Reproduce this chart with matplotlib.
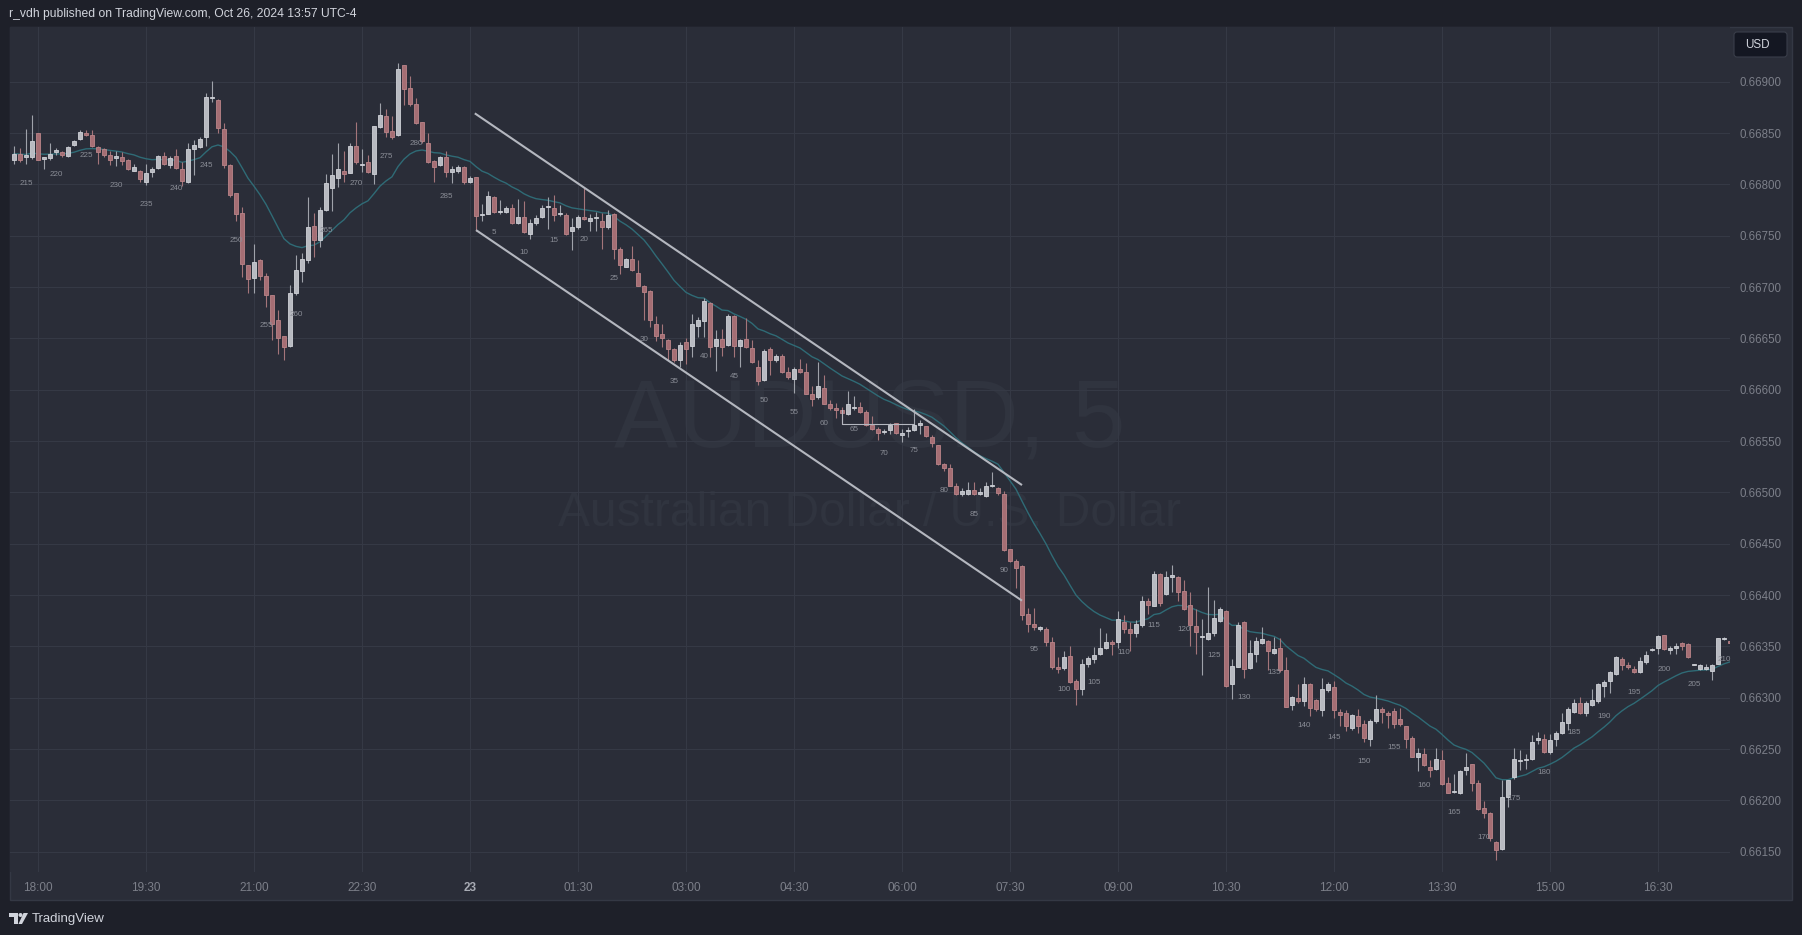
import numpy as np
import pandas as pd
import matplotlib
matplotlib.use('Agg')
import matplotlib.pyplot as plt
from matplotlib.patches import Rectangle, FancyBboxPatch, Polygon, Circle

W, H = 1802, 935

# AUDUSD 5 min candles, prices in units of 0.00001
opens = [66824, 66830, 66827, 66827, 66850, 66825, 66826, 66832, 66832, 66828,
         66838, 66844, 66850, 66848, 66836, 66834, 66829, 66826, 66827, 66824,
         66813, 66813, 66802, 66812, 66816, 66828, 66819, 66828, 66815, 66802,
         66834, 66836, 66846, 66884, 66882, 66854, 66819, 66792, 66772, 66721,
         66709, 66726, 66711, 66692, 66668, 66652, 66643, 66694, 66716, 66726,
         66759, 66746, 66775, 66796, 66806, 66813, 66811, 66837, 66819, 66822,
         66810, 66856, 66867, 66852, 66848, 66916, 66894, 66878, 66861, 66840,
         66823, 66819, 66827, 66812, 66813, 66817, 66802, 66807, 66770, 66771,
         66788, 66773, 66773, 66777, 66762, 66768, 66752, 66762, 66768, 66778,
         66777, 66771, 66770, 66755, 66758, 66768, 66764, 66767, 66764, 66758,
         66771, 66737, 66720, 66727, 66714, 66701, 66696, 66664, 66654, 66648,
         66640, 66629, 66646, 66643, 66662, 66667, 66684, 66643, 66649, 66644,
         66672, 66643, 66649, 66641, 66622, 66609, 66640, 66629, 66633, 66617,
         66610, 66620, 66617, 66596, 66593, 66602, 66586, 66582, 66580, 66576,
         66582, 66583, 66578, 66566, 66562, 66559, 66561, 66568, 66556, 66560,
         66561, 66566, 66565, 66554, 66546, 66528, 66524, 66506, 66498, 66498,
         66502, 66498, 66496, 66506, 66504, 66498, 66445, 66433, 66428, 66382,
         66372, 66367, 66367, 66354, 66330, 66329, 66341, 66316, 66308, 66333,
         66338, 66343, 66348, 66354, 66354, 66374, 66367, 66363, 66371, 66394,
         66389, 66420, 66401, 66418, 66418, 66404, 66390, 66370, 66359, 66357,
         66363, 66375, 66384, 66313, 66330, 66374, 66329, 66343, 66353, 66355,
         66344, 66348, 66327, 66293, 66300, 66297, 66313, 66298, 66288, 66307,
         66310, 66286, 66285, 66270, 66282, 66274, 66260, 66277, 66289, 66285,
         66287, 66279, 66272, 66261, 66242, 66245, 66232, 66231, 66239, 66217,
         66208, 66207, 66230, 66235, 66217, 66193, 66188, 66159, 66153, 66203,
         66223, 66238, 66239, 66240, 66259, 66260, 66247, 66260, 66266, 66275,
         66286, 66295, 66285, 66293, 66297, 66311, 66316, 66323, 66338, 66332,
         66328, 66325, 66335, 66346, 66348, 66361, 66346, 66348, 66353, 66352,
         66332, 66328, 66328, 66326, 66333, 66357, 66355]
highs = [66837, 66835, 66854, 66868, 66850, 66827, 66840, 66835, 66833, 66837,
         66843, 66853, 66853, 66853, 66837, 66835, 66833, 66833, 66832, 66825,
         66820, 66814, 66820, 66817, 66829, 66832, 66828, 66834, 66822, 66840,
         66843, 66846, 66889, 66901, 66883, 66860, 66820, 66792, 66778, 66721,
         66742, 66727, 66714, 66692, 66678, 66652, 66702, 66731, 66733, 66788,
         66772, 66778, 66810, 66830, 66840, 66833, 66840, 66861, 66834, 66829,
         66857, 66879, 66873, 66867, 66918, 66916, 66906, 66884, 66861, 66850,
         66824, 66828, 66833, 66818, 66819, 66818, 66808, 66807, 66781, 66794,
         66789, 66785, 66779, 66781, 66786, 66784, 66766, 66770, 66780, 66788,
         66790, 66780, 66772, 66767, 66770, 66797, 66771, 66773, 66772, 66775,
         66772, 66739, 66728, 66740, 66726, 66702, 66697, 66672, 66664, 66649,
         66641, 66646, 66650, 66674, 66671, 66689, 66685, 66658, 66659, 66674,
         66673, 66649, 66670, 66648, 66629, 66640, 66642, 66635, 66635, 66622,
         66622, 66630, 66626, 66604, 66627, 66614, 66590, 66587, 66583, 66599,
         66594, 66588, 66580, 66574, 66564, 66562, 66568, 66568, 66562, 66564,
         66581, 66570, 66565, 66556, 66546, 66529, 66528, 66509, 66504, 66510,
         66510, 66504, 66510, 66520, 66505, 66501, 66445, 66435, 66429, 66387,
         66387, 66370, 66369, 66359, 66340, 66345, 66350, 66318, 66338, 66341,
         66349, 66368, 66363, 66356, 66384, 66381, 66374, 66376, 66399, 66397,
         66423, 66421, 66423, 66429, 66419, 66415, 66403, 66386, 66377, 66408,
         66395, 66388, 66385, 66338, 66374, 66375, 66356, 66359, 66369, 66356,
         66359, 66358, 66340, 66302, 66313, 66320, 66314, 66299, 66319, 66315,
         66316, 66289, 66288, 66284, 66289, 66278, 66279, 66303, 66291, 66287,
         66290, 66290, 66272, 66263, 66251, 66251, 66239, 66251, 66249, 66223,
         66226, 66230, 66246, 66235, 66220, 66199, 66189, 66160, 66220, 66220,
         66251, 66249, 66245, 66264, 66267, 66265, 66265, 66268, 66285, 66291,
         66299, 66301, 66297, 66308, 66314, 66317, 66326, 66341, 66340, 66335,
         66331, 66340, 66345, 66348, 66361, 66361, 66350, 66353, 66354, 66353,
         66333, 66333, 66333, 66333, 66358, 66359, 66355]
lows = [66820, 66822, 66820, 66825, 66824, 66815, 66824, 66829, 66827, 66827,
        66837, 66843, 66847, 66836, 66820, 66827, 66819, 66818, 66819, 66814,
        66813, 66802, 66799, 66807, 66815, 66819, 66816, 66815, 66798, 66801,
        66809, 66835, 66837, 66880, 66850, 66816, 66788, 66764, 66710, 66694,
        66694, 66707, 66681, 66648, 66635, 66629, 66642, 66692, 66705, 66723,
        66729, 66739, 66774, 66774, 66797, 66802, 66811, 66820, 66812, 66811,
        66800, 66855, 66846, 66844, 66847, 66877, 66876, 66859, 66840, 66821,
        66802, 66818, 66807, 66801, 66811, 66800, 66801, 66755, 66764, 66771,
        66772, 66771, 66772, 66761, 66761, 66753, 66747, 66760, 66767, 66757,
        66764, 66769, 66751, 66736, 66757, 66765, 66755, 66755, 66737, 66757,
        66727, 66713, 66720, 66716, 66701, 66668, 66661, 66647, 66642, 66629,
        66627, 66622, 66625, 66632, 66651, 66651, 66632, 66618, 66633, 66643,
        66632, 66622, 66641, 66626, 66605, 66608, 66614, 66627, 66616, 66610,
        66597, 66616, 66596, 66584, 66591, 66586, 66580, 66572, 66567, 66575,
        66580, 66577, 66565, 66561, 66551, 66557, 66557, 66557, 66549, 66554,
        66560, 66557, 66554, 66544, 66527, 66521, 66506, 66497, 66496, 66497,
        66497, 66497, 66495, 66505, 66497, 66443, 66432, 66407, 66376, 66364,
        66366, 66365, 66350, 66328, 66324, 66327, 66314, 66293, 66303, 66330,
        66334, 66342, 66347, 66342, 66348, 66363, 66345, 66359, 66369, 66382,
        66389, 66389, 66400, 66403, 66394, 66385, 66350, 66343, 66322, 66356,
        66360, 66374, 66310, 66299, 66330, 66319, 66328, 66335, 66352, 66327,
        66343, 66325, 66291, 66288, 66295, 66292, 66282, 66287, 66282, 66306,
        66280, 66272, 66268, 66269, 66266, 66257, 66253, 66275, 66275, 66270,
        66270, 66272, 66251, 66242, 66229, 66233, 66223, 66230, 66215, 66207,
        66207, 66206, 66225, 66209, 66191, 66183, 66160, 66142, 66152, 66194,
        66221, 66230, 66231, 66239, 66255, 66246, 66245, 66253, 66265, 66269,
        66285, 66284, 66282, 66292, 66295, 66301, 66305, 66322, 66327, 66328,
        66324, 66324, 66333, 66345, 66343, 66346, 66343, 66343, 66346, 66339,
        66332, 66327, 66327, 66317, 66333, 66356, 66353]
closes = [66830, 66824, 66827, 66842, 66824, 66825, 66830, 66832, 66829, 66836,
          66842, 66851, 66848, 66837, 66832, 66829, 66824, 66826, 66823, 66815,
          66817, 66805, 66811, 66815, 66828, 66820, 66826, 66816, 66803, 66834,
          66838, 66844, 66885, 66884, 66855, 66819, 66790, 66771, 66722, 66708,
          66724, 66711, 66692, 66664, 66650, 66642, 66694, 66717, 66727, 66758,
          66746, 66775, 66801, 66809, 66815, 66810, 66837, 66822, 66819, 66812,
          66857, 66868, 66851, 66846, 66912, 66893, 66878, 66860, 66842, 66822,
          66817, 66827, 66812, 66815, 66817, 66802, 66806, 66769, 66771, 66789,
          66773, 66773, 66777, 66762, 66768, 66754, 66762, 66767, 66777, 66778,
          66770, 66771, 66752, 66758, 66768, 66766, 66767, 66767, 66758, 66770,
          66737, 66721, 66727, 66717, 66701, 66695, 66668, 66652, 66650, 66640,
          66629, 66644, 66640, 66664, 66668, 66686, 66642, 66649, 66642, 66672,
          66643, 66648, 66642, 66627, 66608, 66638, 66629, 66633, 66617, 66612,
          66620, 66617, 66596, 66591, 66604, 66586, 66582, 66580, 66577, 66586,
          66583, 66578, 66566, 66562, 66558, 66559, 66566, 66558, 66558, 66560,
          66566, 66566, 66555, 66548, 66528, 66524, 66506, 66498, 66501, 66502,
          66498, 66500, 66506, 66507, 66499, 66444, 66433, 66426, 66381, 66372,
          66369, 66369, 66354, 66330, 66328, 66340, 66315, 66308, 66333, 66339,
          66342, 66348, 66354, 66352, 66377, 66367, 66363, 66372, 66394, 66390,
          66420, 66392, 66418, 66418, 66403, 66386, 66371, 66364, 66359, 66363,
          66378, 66386, 66311, 66331, 66371, 66328, 66344, 66355, 66357, 66345,
          66347, 66327, 66291, 66301, 66297, 66313, 66290, 66289, 66308, 66313,
          66288, 66283, 66272, 66283, 66272, 66261, 66277, 66289, 66286, 66283,
          66274, 66274, 66260, 66242, 66246, 66234, 66230, 66240, 66216, 66207,
          66208, 66229, 66232, 66217, 66192, 66188, 66163, 66152, 66203, 66220,
          66240, 66238, 66239, 66257, 66261, 66247, 66259, 66266, 66276, 66289,
          66295, 66285, 66295, 66298, 66313, 66315, 66325, 66340, 66332, 66330,
          66325, 66336, 66342, 66347, 66360, 66347, 66348, 66350, 66350, 66340,
          66332, 66332, 66330, 66332, 66358, 66357, 66353]

o = np.array(opens) / 1e5
h = np.array(highs) / 1e5
l = np.array(lows) / 1e5
c = np.array(closes) / 1e5
x = np.arange(len(o))

time_ticks = [4, 22, 40, 58, 76, 94, 112, 130, 148, 166, 184, 202, 220, 238, 256, 274]
time_labels = ['18:00', '19:30', '21:00', '22:30', '23', '01:30', '03:00', '04:30',
               '06:00', '07:30', '09:00', '10:30', '12:00', '13:30', '15:00', '16:30']
price_ticks = [0.6615, 0.6620, 0.6625, 0.6630, 0.6635, 0.6640, 0.6645, 0.6650,
               0.6655, 0.6660, 0.6665, 0.6670, 0.6675, 0.6680, 0.6685, 0.6690]

# bar counter labels (every 5th bar), day 1 starts at bar 213
bar_numbers = list(range(215, 290, 5)) + list(range(5, 215, 5))
bar_pos = [b - 213 if b >= 213 else b + 75 for b in bar_numbers]

# drawings
upper_line_x = [76.8, 168]
upper_line_y = [0.668692, 0.665071]
lower_line_x = [77, 168]
lower_line_y = [0.667555, 0.663945]
bracket_x = [138, 138, 150]
bracket_y = [0.66580, 0.66567, 0.66567]

BG_OUT = '#1e2029'
BG_PANE = '#2a2d38'
GRID = '#353945'
TXT = '#7c7f89'
UP_FILL = '#b8bac1'
UP_EDGE = '#d0d2d8'
DN_FILL = '#a56e74'
DN_EDGE = '#bb8489'
WM = '#30343f'

def fx(px):
    return px / W

def fy(py):
    return 1 - py / H

fig = plt.figure(figsize=(W / 100, H / 100), dpi=100, facecolor=BG_OUT)
fig.add_artist(Rectangle((fx(10), fy(900)), fx(1792) - fx(10), fy(27) - fy(900),
                         transform=fig.transFigure, facecolor=BG_PANE,
                         edgecolor='#343844', lw=1, zorder=0))

ax = fig.add_axes([fx(10), fy(872), fx(1730) - fx(10), fy(27) - fy(872)])
ax.set_facecolor(BG_PANE)
ax.set_xlim(-4 / 6, (1730 - 14) / 6)
ax.set_ylim(0.661302, 0.669533)
for s in ax.spines.values():
    s.set_visible(False)

ax.set_axisbelow(True)
ax.set_yticks(price_ticks)
ax.set_yticklabels(['%.5f' % p for p in price_ticks])
ax.yaxis.tick_right()
ax.set_xticks(time_ticks)
ax.set_xticklabels(time_labels)
ax.tick_params(axis='y', length=0, pad=6.5, labelsize=8.3, labelcolor=TXT)
ax.tick_params(axis='x', length=0, pad=7, labelsize=8.5, labelcolor=TXT)
for t in ax.get_xticklabels() + ax.get_yticklabels():
    t.set_fontfamily('Liberation Sans')
ax.get_xticklabels()[4].set_fontweight('bold')
ax.get_xticklabels()[4].set_color('#a8abb4')
ax.grid(True, color=GRID, lw=0.8)

# watermark
ax.text(fx(870), fy(446), 'AUDUSD, 5', transform=fig.transFigure, ha='center', va='baseline',
        fontsize=69, color=WM, family='Liberation Sans', zorder=0.2)
ax.text(fx(870), fy(526), 'Australian Dollar / U.S. Dollar', transform=fig.transFigure,
        ha='center', va='baseline', fontsize=34.5, color=WM, family='Liberation Sans', zorder=0.2)

# moving average
ma = pd.Series(c).ewm(span=20, adjust=False).mean()
ax.plot(x, ma, color='#2f6b76', lw=1.0, zorder=2)

# candles
up = c >= o
body_lo = np.minimum(o, c)
body_h = np.maximum(np.abs(c - o), 0.000012)
ax.vlines(x[up], l[up], h[up], color='#9fa2aa', lw=0.8, zorder=3)
ax.vlines(x[~up], l[~up], h[~up], color='#a4757a', lw=0.8, zorder=3)
ax.bar(x[up], body_h[up], bottom=body_lo[up], width=0.6, color=UP_FILL,
       edgecolor=UP_EDGE, lw=0.6, zorder=4)
ax.bar(x[~up], body_h[~up], bottom=body_lo[~up], width=0.6, color=DN_FILL,
       edgecolor=DN_EDGE, lw=0.6, zorder=4)

# bar numbers
for b, k in zip(bar_numbers, bar_pos):
    ax.annotate(str(b), xy=(k, l[k]), xytext=(0, -14), textcoords='offset points',
                ha='center', va='center', fontsize=5.8, color='#8a8d96',
                family='Liberation Sans', zorder=5, annotation_clip=True)

# trend channel
ax.plot(upper_line_x, upper_line_y, color='#b4b7bf', lw=1.5, solid_capstyle='butt', zorder=6)
ax.plot(lower_line_x, lower_line_y, color='#b4b7bf', lw=1.5, solid_capstyle='butt', zorder=6)
ax.plot(bracket_x, bracket_y, color='#b4b7bf', lw=0.8, zorder=6)

# header / footer / currency box
fig.text(fx(9), fy(14.5), 'r_vdh published on TradingView.com, Oct 26, 2024 13:57 UTC-4',
         ha='left', va='center', fontsize=8.7, color='#d1d4dc', family='Liberation Sans')
fig.add_artist(FancyBboxPatch((1734, H - 57), 53, 25, boxstyle='round,pad=0,rounding_size=3',
                              transform=None, facecolor='#141722', edgecolor='#3a3e4a', lw=0.8))
fig.text(fx(1745), fy(44.5), 'USD', ha='left', va='center', fontsize=8.4,
         color='#d1d4dc', family='Liberation Sans')

# TradingView logo
fig.add_artist(Polygon([(9, H - 913), (18, H - 913), (18, H - 924), (14, H - 924), (14, H - 917),
                        (9, H - 917)], closed=True, transform=None, facecolor='#d1d4dc', lw=0))
fig.add_artist(Circle((20.5, H - 915), 2, transform=None, facecolor='#d1d4dc', lw=0))
fig.add_artist(Polygon([(23.5, H - 913), (28, H - 913), (22, H - 924), (18.5, H - 924)],
                       closed=True, transform=None, facecolor='#d1d4dc', lw=0))
fig.text(fx(32), fy(919), 'TradingView', ha='left', va='center', fontsize=9.5,
         color='#d1d4dc', family='Liberation Sans')

fig.savefig('out.png', dpi=100, facecolor=BG_OUT)
